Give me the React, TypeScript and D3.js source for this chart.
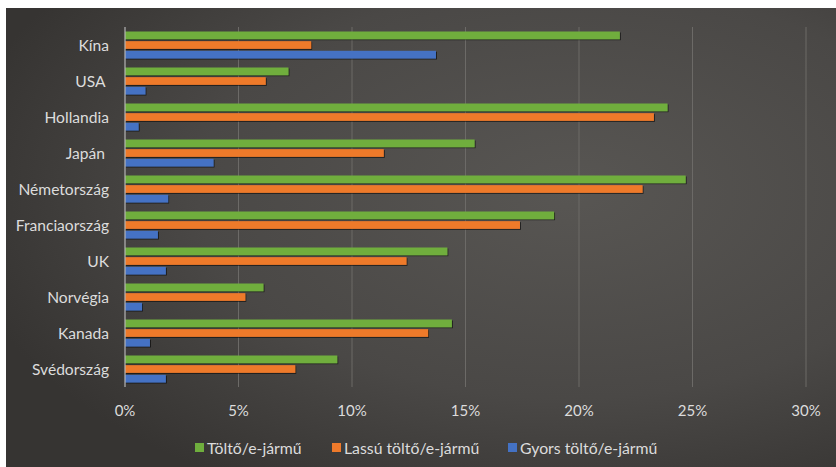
import React from "react";
import * as d3 from "d3";

const categories = ["Kína", "USA ", "Hollandia", "Japán ", "Németország", "Franciaország", "UK", "Norvégia", "Kanada", "Svédország"];
const seriesNames = ["Töltő/e-jármű", "Lassú töltő/e-jármű", "Gyors töltő/e-jármű"];
const toltoValues = [21.8, 7.2, 23.9, 15.4, 24.7, 18.9, 14.2, 6.1, 14.4, 9.35];
const lassuValues = [8.2, 6.2, 23.3, 11.4, 22.8, 17.4, 12.4, 5.3, 13.35, 7.5];
const gyorsValues = [13.7, 0.9, 0.6, 3.9, 1.9, 1.45, 1.8, 0.75, 1.1, 1.8];
const xTicks = [0, 5, 10, 15, 20, 25, 30];
const seriesColors = ["#6fae3d", "#ee7a2b", "#4472c4"];

const W = 836;
const H = 467;
const FONT = "Lato, 'Liberation Sans', sans-serif";

export default function App() {
  const x = d3.scaleLinear().domain([0, 30]).range([125, 806]);
  const y = d3.scaleBand<string>().domain(categories).range([27, 387]).paddingInner(0.25).paddingOuter(0.125);
  const inner = d3.scaleBand<number>().domain([0, 1, 2]).range([0, y.bandwidth()]).paddingInner(0.2);
  const allSeries = [toltoValues, lassuValues, gyorsValues];
  const legendX = [195, 332, 508];

  return (
    <svg width={W} height={H} style={{ position: "absolute", left: 0, top: 0 }} fontFamily={FONT}>
      <defs>
        <radialGradient id="bg" cx="0.68" cy="0.4" r="0.75">
          <stop offset="0" stopColor="#585653" />
          <stop offset="0.6" stopColor="#4a4846" />
          <stop offset="1" stopColor="#363432" />
        </radialGradient>
        <filter id="sh" x="-5%" y="-50%" width="110%" height="200%">
          <feDropShadow dx="1" dy="1" stdDeviation="0.7" floodColor="#000" floodOpacity="0.6" />
        </filter>
      </defs>
      <rect x={0} y={0} width={W} height={H} fill="#ffffff" />
      <rect x={6} y={8} width={W - 6} height={H - 8} fill="url(#bg)" />
      {xTicks.slice(1).map((t) => (
        <line key={t} x1={x(t)} x2={x(t)} y1={27} y2={387} stroke="#6c6a67" strokeWidth={1} />
      ))}
      {categories.map((c, i) => (
        <g key={c}>
          {allSeries.map((vals, s) => (
            <rect
              key={s}
              x={x(0)}
              y={(y(c) as number) + (inner(s) as number)}
              width={x(vals[i]) - x(0)}
              height={inner.bandwidth()}
              fill={seriesColors[s]}
              filter="url(#sh)"
            />
          ))}
          <text
            x={109}
            y={(y(c) as number) + y.bandwidth() / 2}
            textAnchor="end"
            dominantBaseline="central"
            fill="#dcdcdc"
            fontSize={15.6}
            style={{ whiteSpace: "pre" }}
          >
            {c}
          </text>
        </g>
      ))}
      <line x1={x(0)} x2={x(0)} y1={27} y2={387} stroke="#b5b5b5" strokeWidth={1.2} />
      {xTicks.map((t) => (
        <text key={t} x={x(t)} y={410} textAnchor="middle" dominantBaseline="central" fill="#dcdcdc" fontSize={15}>
          {`${t}%`}
        </text>
      ))}
      {seriesNames.map((n, s) => (
        <g key={n}>
          <rect x={legendX[s]} y={443} width={9} height={9} fill={seriesColors[s]} />
          <text x={legendX[s] + 12} y={447.5} dominantBaseline="central" fill="#dcdcdc" fontSize={15.8}>
            {n}
          </text>
        </g>
      ))}
    </svg>
  );
}
